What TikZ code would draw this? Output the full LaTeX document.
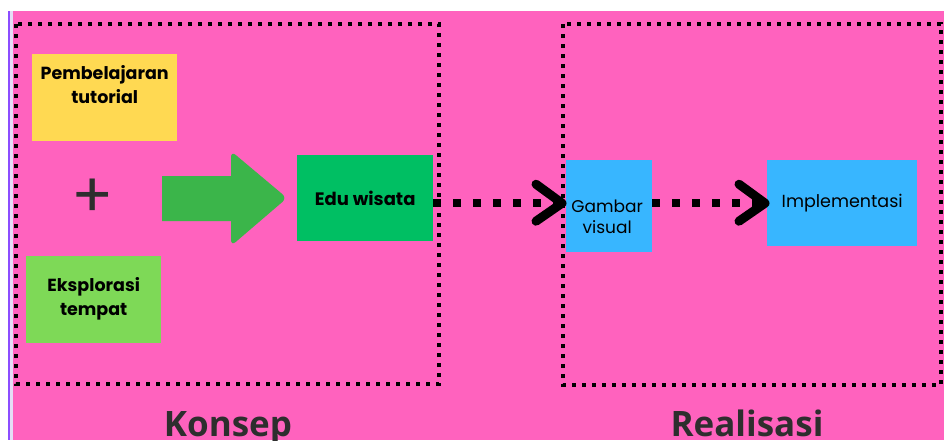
\documentclass[tikz,border=0pt]{standalone}
\usepackage{fontspec}
\setmainfont{Poppins}
\newfontfamily\titlefont{Open Sans}
\usetikzlibrary{positioning}
\definecolor{bgpink}{HTML}{FF62BE}
\definecolor{cyellow}{HTML}{FFD952}
\definecolor{clgreen}{HTML}{7ED957}
\definecolor{cdgreen}{HTML}{00BF63}
\definecolor{carrow}{HTML}{3BB54A}
\definecolor{cblue}{HTML}{38B6FF}
\definecolor{cpurple}{HTML}{8C4DFF}
\definecolor{clav}{HTML}{E4DDF5}
\definecolor{ctitle}{HTML}{2E2E2E}
\tikzset{
  card/.style={inner sep=0pt, align=center, text=black},
  cardtext/.style={font=\bfseries\fontsize{17.5}{24}\selectfont, align=center, anchor=north, inner sep=0pt, text=black},
  groupbox/.style={draw=black, line width=4pt, dash pattern=on 4pt off 6pt},
  dotconn/.style={draw=black, line width=8pt, dash pattern=on 8pt off 12pt},
  chevron/.style={draw=black, line width=9pt, line cap=round, line join=round},
  title/.style={font=\titlefont\bfseries\fontsize{35}{40}\selectfont, text=ctitle, inner sep=0pt, anchor=base},
}
\begin{document}
\begin{tikzpicture}[x=1pt,y=-1pt]
\useasboundingbox (0,0) rectangle (944,440);
\fill[white] (0,0) rectangle (944,440);
\fill[bgpink] (12,11) rectangle (944,440);
\fill[clav] (9.5,11) rectangle (12.5,440);
\fill[cpurple] (8,11) rectangle (10,440);
% group boxes
\draw[groupbox] (16,24) rectangle (439,384);
\draw[groupbox] (563,24) rectangle (941,385);
% cards
\node[card, fill=cyellow, minimum width=145pt, minimum height=87pt, anchor=north west] (pt) at (32,54) {};
\node[cardtext] (ptx) at ([yshift=-11pt]pt.north) {Pembelajaran\\tutorial};
\node[card, fill=clgreen, minimum width=135pt, minimum height=87pt, anchor=north west] (et) at (26,256) {};
\node[cardtext] (etx) at ([yshift=-21pt]et.north) {Eksplorasi\\tempat};
\node[font=\fontsize{62}{62}\selectfont, text=ctitle, inner sep=0pt] (plus) at (93,198) {+};
\node[card, fill=cdgreen, minimum width=136pt, minimum height=86pt, anchor=north west, font=\bfseries\fontsize{18}{18}\selectfont] (edu) at (297,155) {Edu wisata};
\node[card, fill=cblue, minimum width=86pt, minimum height=92pt, anchor=north west] (gv) at (566,160) {};
\node[font=\fontsize{17}{21}\selectfont, align=center, inner sep=0pt] (gvx) at ([xshift=-2pt,yshift=-11pt]gv.center) {Gambar\\visual};
\node[card, fill=cblue, minimum width=150pt, minimum height=86pt, anchor=north west, font=\fontsize{17.5}{18}\selectfont] (impl) at (767,160) {Implementasi};
% block arrow
\fill[carrow, rounded corners=6pt] (162,176) [sharp corners]-- (231,176) [rounded corners=6pt]-- (231,151) -- (287,198) -- (231,246) [sharp corners]-- (231,221) -- (162,221) -- cycle;
% dotted connectors
\coordinate (t1) at ([xshift=-4pt,yshift=3pt]gv.west);
\coordinate (t2) at ([xshift=-2pt,yshift=0pt]impl.west);
\draw[dotconn] (edu.east |- t1) -- ([xshift=-6pt]t1);
\draw[chevron] ([shift={(-26pt,-18pt)}]t1) -- (t1) -- ([shift={(-26pt,19pt)}]t1);
\draw[dotconn] (gv.east |- t2) -- ([xshift=-6pt]t2);
\draw[chevron] ([shift={(-26pt,-18pt)}]t2) -- (t2) -- ([shift={(-26pt,19pt)}]t2);
% titles
\node[title] (konsep) at (228,436) {Konsep};
\node[title] (realisasi) at (747,436) {Realisasi};
\end{tikzpicture}
\end{document}
